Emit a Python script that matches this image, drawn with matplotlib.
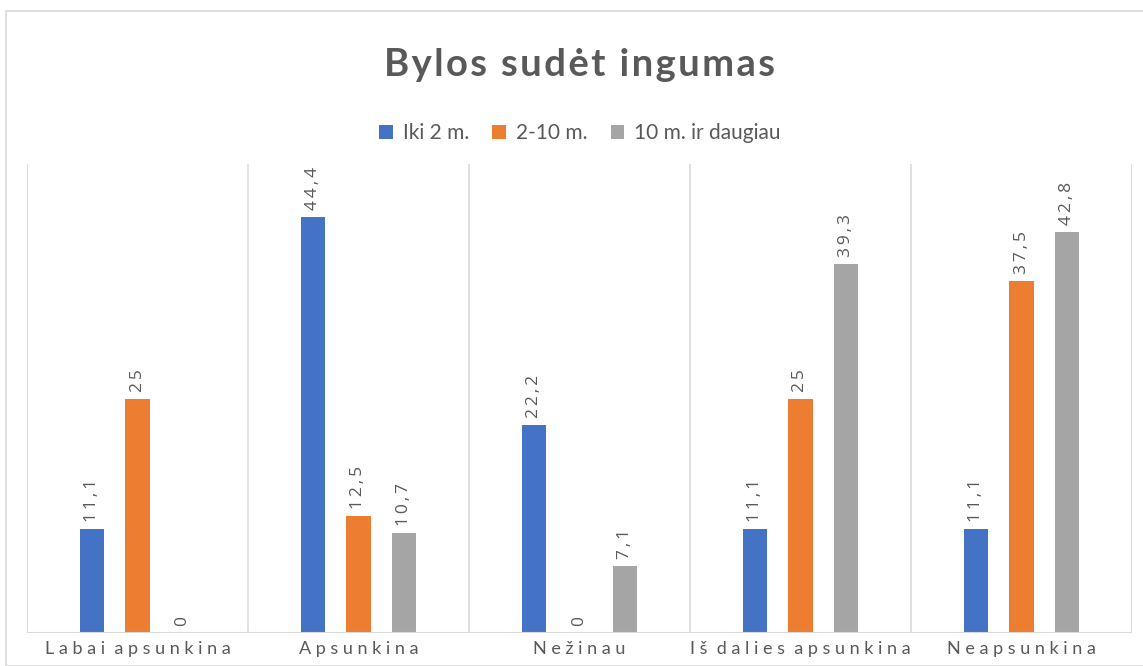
import matplotlib
matplotlib.use("Agg")
import matplotlib.pyplot as plt
from matplotlib.patches import Rectangle
import numpy as np

categories = ["Labai apsunkina", "Apsunkina", "Nežinau", "Iš dalies apsunkina", "Neapsunkina"]
series_names = ["Iki 2 m.", "2-10 m.", "10 m. ir daugiau"]
iki2 = [11.1, 44.4, 22.2, 11.1, 11.1]
m2_10 = [25, 12.5, 0, 25, 37.5]
m10plus = [0, 10.7, 7.1, 39.3, 42.8]
title = "Bylos sudėt ingumas"

colors = ["#4472C4", "#ED7D31", "#A5A5A5"]
text_col = "#595959"
grid_col = "#D9D9D9"

plt.rcParams['font.family'] = ['Lato', 'DejaVu Sans']

W, H = 1143, 666
fig = plt.figure(figsize=(W / 100, H / 100), dpi=100)
fig.patch.set_facecolor("white")
fig.patches.append(Rectangle((6 / W, 0), 1.2, 1 - 11 / H, transform=fig.transFigure,
                             fill=False, edgecolor=grid_col, linewidth=1.2))

ax = fig.add_axes([27 / W, 1 - 633 / H, (1132 - 27) / W, (633 - 164) / H])
x = np.arange(len(categories))
offs = [-0.204, 0.0, 0.204]
bw = 0.109
for s, (vals, name, c, o) in enumerate(zip([iki2, m2_10, m10plus], series_names, colors, offs)):
    ax.bar(x + o, vals, width=bw, color=c, label=name, zorder=3)
    for xi, v in zip(x + o, vals):
        lab = "\u2009".join(list(f"{v:g}".replace(".", ",")))
        ax.annotate(lab, (xi, v), xytext=(0, 5), textcoords="offset points",
                    rotation=90, ha="center", va="bottom", fontsize=12.5, color=text_col,
                    family=['Open Sans', 'DejaVu Sans'])

ax.set_xlim(-0.5, len(categories) - 0.5)
ax.set_ylim(0, 50)
for b in np.arange(-0.5, len(categories), 1.0):
    ax.axvline(b, color=grid_col, linewidth=1.2, zorder=1)
ax.axhline(0, color=grid_col, linewidth=1.5, zorder=4)
for sp in ax.spines.values():
    sp.set_visible(False)
ax.set_yticks([])
ax.set_xticks(x)

def spaced(s):
    return "  ".join(" ".join(list(w)) for w in s.split(" "))

ax.set_xticklabels([spaced(c) for c in categories], fontsize=13, color=text_col)
ax.tick_params(axis="x", length=0, pad=6)

cx = 580 / W
fig.text(cx, 1 - 65 / H, "\u200a".join(list(title)), ha="center", va="center", fontsize=27.5,
         fontweight="bold", color=text_col, family=['Lato', 'DejaVu Sans'])
fig.legend(loc="center", bbox_to_anchor=(cx, 1 - 133 / H), ncol=3, frameon=False,
           fontsize=15, labelcolor=text_col, handlelength=0.65, handleheight=0.65,
           handletextpad=0.5, columnspacing=1.1)

fig.savefig("out.png", dpi=100, facecolor="white")
